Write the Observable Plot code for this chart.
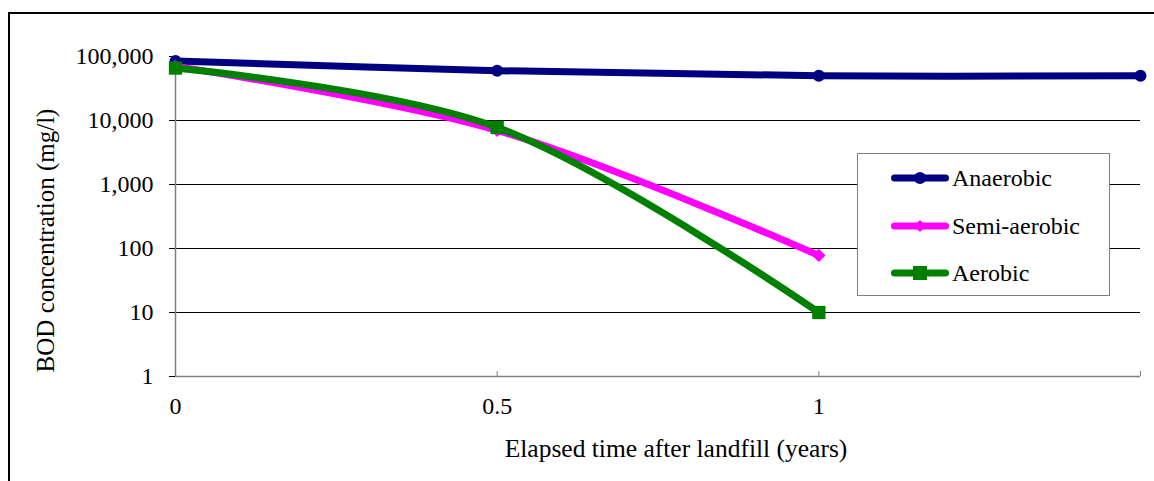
<!DOCTYPE html>
<html><head><meta charset="utf-8">
<script src="https://cdn.jsdelivr.net/npm/d3@7"></script>
<script src="https://cdn.jsdelivr.net/npm/@observablehq/plot@0.6"></script>
<style>
body{margin:0;background:#fff;}
#wrap{position:relative;width:1154px;height:481px;overflow:hidden;font-family:"Liberation Serif","DejaVu Serif",serif;background:#fff;}
#chart{position:absolute;left:0;top:0;}
#frame{position:absolute;left:8px;top:12px;width:1300px;height:600px;border-left:2px solid #000;border-top:2px solid #000;pointer-events:none;}
#legend{position:absolute;left:857px;top:153px;width:253px;height:143px;border:1px solid #7f7f7f;background:#fff;box-sizing:border-box;}
.row{position:absolute;left:33px;height:30px;display:flex;align-items:center;font-family:"Liberation Serif","DejaVu Serif",serif;font-size:24px;color:#000;white-space:nowrap;}
.row svg{margin-right:3px;}
</style></head>
<body>
<div id="wrap"><div id="frame"></div><div id="chart"></div><div id="legend"></div></div>
<script>
const years = [0, 0.5, 1, 1.5];
const anaerobic = [85000, 60000, 50000, 50000];
const semiAerobic = [70000, 7000, 78];
const aerobic = [66000, 7800, 10];
const seriesNames = ["Anaerobic", "Semi-aerobic", "Aerobic"];
const seriesColors = ["#000080", "#ff00ff", "#008000"];
const seriesSymbols = ["circle", "diamond2", "square"];
const yTicks = [1, 10, 100, 1000, 10000, 100000];
const xTicks = [0, 0.5, 1, 1.5];
const xTickLabels = ["0", "0.5", "1", ""];
const xLabel = "Elapsed time after landfill (years)";
const yLabel = "BOD concentration (mg/l)";

const FONT = "Liberation Serif, DejaVu Serif, serif";
const seriesValues = [anaerobic, semiAerobic, aerobic];
const rows = [];
seriesValues.forEach((vals, s) => vals.forEach((v, i) => rows.push({series: seriesNames[s], x: years[i], y: v})));
const symR = {circle: 6, diamond2: 6, square: 7.5};

const seriesMarks = [];
seriesNames.forEach((name, s) => {
  const d = rows.filter(r => r.series === name);
  seriesMarks.push(Plot.line(d, {x: "x", y: "y", stroke: seriesColors[s], strokeWidth: 7, curve: "catmull-rom", strokeLinecap: "round", strokeLinejoin: "round"}));
  seriesMarks.push(Plot.dot(d, {x: "x", y: "y", fill: seriesColors[s], stroke: "none", symbol: seriesSymbols[s], r: symR[seriesSymbols[s]]}));
});

const chart = Plot.plot({
  width: 1154, height: 481,
  marginLeft: 175, marginRight: 14, marginTop: 56, marginBottom: 105,
  style: {fontFamily: FONT, fontSize: "24px", color: "#000", background: "transparent", overflow: "visible"},
  x: {domain: [0, 1.5]},
  y: {type: "log", domain: [1, 100000]},
  marks: [
    Plot.ruleY(yTicks.slice(1, -1), {stroke: "#000", strokeWidth: 1}),
    Plot.axisY({ticks: yTicks, tickFormat: d3.format(","), tickSize: 6, tickPadding: 16, label: null, stroke: "#000", fontFamily: FONT}),
    Plot.ruleX([0], {stroke: "#808080", strokeWidth: 1.5}),
    Plot.ruleY([1], {stroke: "#808080", strokeWidth: 1.5}),
    Plot.axisX({ticks: xTicks, tickSize: 0, tickPadding: 20, tickFormat: (d, i) => xTickLabels[i], label: null, fontFamily: FONT}),
    Plot.axisX({ticks: xTicks.slice(1), tickSize: 5, dy: -5, tickFormat: () => "", stroke: "#808080", label: null}),
    Plot.text([xLabel], {frameAnchor: "bottom", textAnchor: "middle", dx: 18, dy: 80, text: d => d, fontSize: 25.5, fontFamily: FONT}),
    Plot.text([yLabel], {frameAnchor: "left", textAnchor: "middle", rotate: -90, dx: -130, dy: 24, text: d => d, fontSize: 25, fontFamily: FONT}),
    ...seriesMarks
  ]
});
document.getElementById("chart").appendChild(chart);

const legend = document.getElementById("legend");
const rowTops = [9, 57, 104];
seriesNames.forEach((name, s) => {
  const row = document.createElement("div");
  row.className = "row";
  row.style.top = rowTops[s] + "px";
  const sym = seriesSymbols[s];
  let marker;
  if (sym === "circle") marker = `<circle cx="29" cy="15" r="6" fill="${seriesColors[s]}"/>`;
  else if (sym === "square") marker = `<rect x="22" y="8" width="14" height="14" fill="${seriesColors[s]}"/>`;
  else marker = `<path d="M29,9 L35,15 L29,21 L23,15Z" fill="${seriesColors[s]}"/>`;
  row.innerHTML = `<svg width="58" height="30"><line x1="3.5" y1="15" x2="54.5" y2="15" stroke="${seriesColors[s]}" stroke-width="7" stroke-linecap="round"/>${marker}</svg><span>${name}</span>`;
  legend.appendChild(row);
});
</script>
</body></html>
